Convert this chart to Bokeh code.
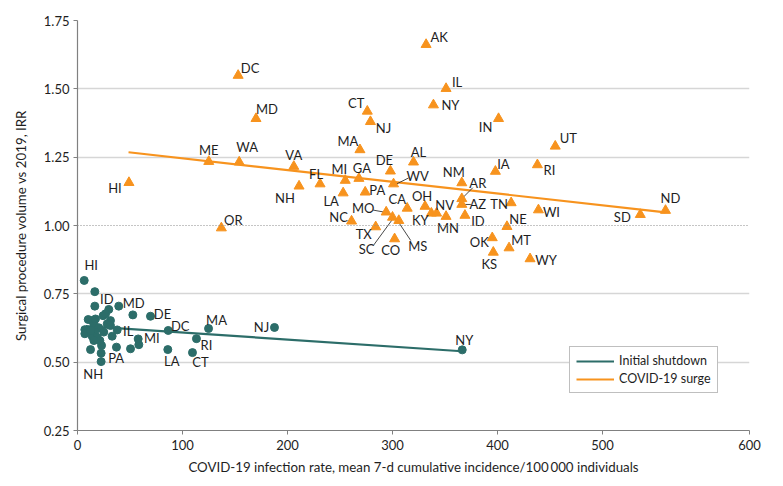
from bokeh.plotting import figure
from bokeh.models import (Range1d, FixedTicker, Span, Legend, LegendItem,
                          ColumnDataSource, NumeralTickFormatter)
from bokeh.core.properties import value
from bokeh.embed import file_html
from bokeh.resources import INLINE

# ---------------- data ----------------
x_tick_values = [0, 100, 200, 300, 400, 500, 600]
y_tick_values = [0.25, 0.50, 0.75, 1.00, 1.25, 1.50, 1.75]
reference_irr = 1.0

surge_states = ["AK", "IL", "NY", "CT", "NJ", "IN", "UT", "MA", "DC", "ME",
                "WA", "OR", "MD", "HI", "AL", "VA", "FL", "NH", "MI", "GA",
                "DE", "WV", "LA", "PA", "CA", "OH", "KY", "NV", "MN", "MO",
                "SC", "MS", "NC", "TX", "CO", "IA", "RI", "NM", "AR", "AZ",
                "TN", "WI", "ID", "NE", "OK", "MT", "KS", "WY", "ND", "SD"]
surge_rate = [332, 351, 339, 276, 279, 401, 455, 269, 153, 125,
              154, 137, 170, 49, 320, 206, 231, 211, 255, 268,
              298, 301, 253, 274, 314, 331, 337, 342, 351, 294,
              300, 306, 261, 284, 302, 398, 438, 366, 366, 366,
              413, 439, 369, 409, 395, 411, 396, 431, 560, 536]
surge_irr = [1.662, 1.501, 1.441, 1.418, 1.380, 1.391, 1.290, 1.277, 1.549, 1.234,
             1.232, 0.991, 1.391, 1.157, 1.232, 1.216, 1.152, 1.144, 1.165, 1.172,
             1.199, 1.152, 1.119, 1.122, 1.063, 1.070, 1.045, 1.045, 1.033, 1.049,
             1.030, 1.018, 1.016, 0.995, 0.951, 1.198, 1.222, 1.156, 1.098, 1.077,
             1.083, 1.057, 1.037, 0.996, 0.955, 0.918, 0.902, 0.878, 1.055, 1.040]

shutdown_states = ["HI", "", "ID", "", "MD", "", "DE", "DC", "LA", "MI",
                   "", "IL", "", "", "", "PA", "NH", "", "",
                   "", "", "", "", "", "", "", "", "", "",
                   "", "", "", "", "", "", "", "", "",
                   "MA", "NJ", "NY", "RI", "CT"]
shutdown_rate = [6.4, 16.5, 16.5, 29.8, 39.3, 52.7, 69.5, 86.4, 86.0, 58.4,
                 57.8, 37.8, 50.5, 37.1, 33.0, 22.5, 22.5, 12.4, 22.9,
                 7.0, 7.0, 10.2, 14.0, 15.6, 17.1, 24.4, 26.7, 31.4, 28.3,
                 20.3, 16.5, 14.0, 18.7, 21.3, 15.6, 25.0, 31.4, 12.4,
                 124.8, 187.6, 366.4, 113.3, 109.5]
shutdown_irr = [0.799, 0.758, 0.705, 0.693, 0.705, 0.673, 0.668, 0.616, 0.546, 0.564,
                0.585, 0.618, 0.549, 0.555, 0.595, 0.533, 0.502, 0.546, 0.561,
                0.619, 0.604, 0.656, 0.652, 0.640, 0.658, 0.670, 0.677, 0.652, 0.640,
                0.626, 0.610, 0.595, 0.591, 0.579, 0.579, 0.610, 0.634, 0.616,
                0.623, 0.627, 0.545, 0.586, 0.535]

shutdown_fit_rate = [8, 366]
shutdown_fit_irr = [0.632, 0.540]
surge_fit_rate = [48.6, 560]
surge_fit_irr = [1.268, 1.048]

# ---------------- layout / style ----------------
FONT = "Lato"
TEAL = "#2c6d69"
ORANGE = "#f7931e"
TEXT = "#1e1e1e"
FRAME_W, FRAME_H = 672, 410
X_END = 640  # the reference draws its "600" tick at the right end of the frame

# label offsets in screen pixels (dx, dy; dy positive = down)
surge_label_offsets = {
    "AK": (13, -8), "IL": (11, -7), "NY": (17, 0), "CT": (-11, -8), "NJ": (13, 6),
    "IN": (-13, 8), "UT": (13, -8), "MA": (-12, -9), "DC": (12, -7), "ME": (0, -12),
    "WA": (8, -15), "OR": (12, -8), "MD": (11, -10), "HI": (-14, 5), "AL": (5, -10),
    "VA": (0, -11), "FL": (-4, -10), "NH": (-14, 12), "MI": (-6, -11), "GA": (3, -10),
    "DE": (-6, -11), "WV": (24, -8), "LA": (-12, 8), "PA": (12, -2), "CA": (-10, -9),
    "OH": (-3, -10), "KY": (-11, 7), "NV": (8, -8), "MN": (2, 12), "MO": (-23, -4),
    "SC": (-26, 32), "MS": (19, 25), "NC": (-13, -4), "TX": (-12, 7), "CO": (-4, 11),
    "IA": (8, -7), "RI": (12, 5), "NM": (-8, -11), "AR": (16, -16), "AZ": (16, 0),
    "TN": (-12, 1), "WI": (13, 2), "ID": (13, 6), "NE": (11, -8), "OK": (-13, 4),
    "MT": (12, -8), "KS": (-4, 12), "WY": (16, 1), "ND": (5, -12), "SD": (-18, 2),
}
surge_leaders = {  # (start dx, dy, end dx, dy) in pixels from the point
    "MO": (-2, 0, -13, -2), "SC": (0, 2, -19, 28), "MS": (0, 2, 12, 20),
    "WV": (3, 0, 15, -6), "AR": (1, -1, 11, -11), "AZ": (3, 0, 9, 0),
}
shutdown_label_offsets = {
    "HI": (7, -15), "ID": (12, -7), "MD": (15, -3), "DE": (12, -2), "DC": (12, -4),
    "MA": (8, -9), "NJ": (-13, 0), "NY": (2, -10), "IL": (11, 1), "MI": (13, -7),
    "RI": (10, 6), "CT": (8, 9), "LA": (4, 11), "PA": (15, 5), "NH": (-8, 12),
}

px_x = FRAME_W / X_END
px_y = FRAME_H / (y_tick_values[-1] - y_tick_values[0])

p = figure(frame_width=FRAME_W, frame_height=FRAME_H,
           x_range=Range1d(x_tick_values[0], X_END),
           y_range=Range1d(y_tick_values[0], y_tick_values[-1]),
           output_backend="svg", toolbar_location=None,
           min_border_left=77, min_border_right=26, min_border_top=20, min_border_bottom=48)
p.outline_line_color = None
p.background_fill_color = "white"
p.border_fill_color = "white"

# grid
p.xgrid.visible = False
p.ygrid.ticker = FixedTicker(ticks=[t for t in y_tick_values if t not in (y_tick_values[0], reference_irr)])
p.ygrid.grid_line_color = "#d6d6d6"
p.ygrid.grid_line_width = 1.3
p.add_layout(Span(location=reference_irr, dimension="width", line_color="#8a8a8a",
                  line_dash="1 2", line_width=1.2))

# axes
x_ticks = x_tick_values[:-1] + [X_END]
p.xaxis.ticker = FixedTicker(ticks=x_ticks)
p.xaxis.major_label_overrides = {X_END: str(x_tick_values[-1])}
p.yaxis.ticker = FixedTicker(ticks=y_tick_values)
p.yaxis.formatter = NumeralTickFormatter(format="0.00")
for ax in (p.xaxis[0], p.yaxis[0]):
    ax.axis_line_color = "#808080"
    ax.axis_line_width = 1.2
    ax.major_tick_line_color = "#808080"
    ax.major_tick_out = 4
    ax.major_tick_in = 0
    ax.minor_tick_line_color = None
    ax.major_label_text_font = FONT
    ax.major_label_text_font_size = "13px"
    ax.major_label_text_color = TEXT
    ax.axis_label_text_font = FONT
    ax.axis_label_text_font_size = "13.3px"
    ax.axis_label_text_font_style = "normal"
    ax.axis_label_text_color = TEXT
p.xaxis.axis_label = "COVID-19 infection rate, mean 7-d cumulative incidence/100\u2009000 individuals"
p.yaxis.axis_label = "Surgical procedure volume vs 2019, IRR"
p.xaxis.major_label_standoff = 5
p.xaxis.axis_label_standoff = 6
p.yaxis.major_label_standoff = 4
p.yaxis.axis_label_standoff = 12

# fit lines
l_shut = p.line(shutdown_fit_rate, shutdown_fit_irr, line_color=TEAL, line_width=2.2)
l_surge = p.line(surge_fit_rate, surge_fit_irr, line_color=ORANGE, line_width=2.2)

# leader lines
lx0, ly0, lx1, ly1 = [], [], [], []
for s, (a, b, c, d) in surge_leaders.items():
    i = surge_states.index(s)
    lx0.append(surge_rate[i] + a / px_x)
    ly0.append(surge_irr[i] - b / px_y)
    lx1.append(surge_rate[i] + c / px_x)
    ly1.append(surge_irr[i] - d / px_y)
p.segment(lx0, ly0, lx1, ly1, line_color="#333333", line_width=0.9)

# points
p.scatter(surge_rate, surge_irr, marker="triangle", size=10, fill_color=ORANGE,
          line_color=ORANGE)
p.scatter(shutdown_rate, shutdown_irr, marker="circle", size=8, fill_color=TEAL,
          line_color=TEAL)

# point labels
def label_source(states, xs, ys, offsets):
    d = dict(x=[], y=[], t=[], dx=[], dy=[])
    for s, xv, yv in zip(states, xs, ys):
        if s and s in offsets:
            d["x"].append(xv); d["y"].append(yv); d["t"].append(s)
            d["dx"].append(offsets[s][0]); d["dy"].append(offsets[s][1])
    return ColumnDataSource(d)

for src in (label_source(surge_states, surge_rate, surge_irr, surge_label_offsets),
            label_source(shutdown_states, shutdown_rate, shutdown_irr, shutdown_label_offsets)):
    p.text(x="x", y="y", text="t", x_offset="dx", y_offset="dy", source=src,
           text_font=value(FONT), text_font_size="13px", text_color=TEXT,
           text_align="center", text_baseline="middle")

legend = Legend(items=[LegendItem(label="Initial shutdown", renderers=[l_shut]),
                       LegendItem(label="COVID-19 surge", renderers=[l_surge])],
                location=(492, 37))
legend.border_line_color = "#808080"
legend.border_line_width = 1.2
legend.background_fill_alpha = 1
legend.label_text_font = FONT
legend.label_text_font_size = "12.5px"
legend.label_text_color = TEXT
legend.label_height = 14
legend.glyph_width = 38
legend.glyph_height = 14
legend.label_standoff = 5
legend.padding = 6
legend.spacing = 3
legend.margin = 0
p.add_layout(legend)

open("out.html", "w").write(file_html(p, INLINE))
